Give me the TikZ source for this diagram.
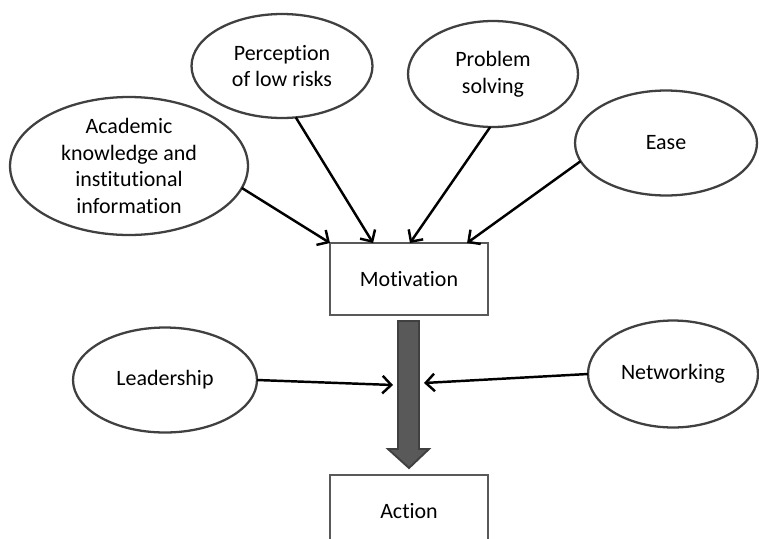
\documentclass[tikz,border=0pt]{standalone}
\usepackage{fontspec}
\setmainfont{Carlito}[Ligatures=NoCommon]
\usetikzlibrary{shapes.geometric,arrows.meta}

\tikzset{
  factor/.style={ellipse, draw=black!75, line width=1.3pt, inner sep=0pt, outer sep=0pt, align=center, font=\fontsize{12.5}{15.2}\selectfont},
  stage/.style={rectangle, draw=black!65, line width=1.4pt, inner sep=0pt, outer sep=0pt, minimum width=3.16cm, minimum height=1.44cm, font=\fontsize{12.5}{15.2}\selectfont},
  influence/.style={draw=black, line width=1.4pt, -{Straight Barb[length=5pt,width=10pt]}}
}

\begin{document}
\begin{tikzpicture}[x=0.02cm,y=-0.02cm]
\clip (0,0) rectangle (759,538);

% factors on top
\node (acad) at (129,166) [factor, minimum width=4.76cm, minimum height=2.76cm] {Academic\\knowledge and\\institutional\\information};
\node (percep) at (282,66) [factor, minimum width=3.62cm, minimum height=2.08cm] {Perception\\of low risks};
\node (prob) at (493,74) [factor, minimum width=3.4cm, minimum height=2.12cm] {Problem\\solving};
\node (ease) at (666,143) [factor, minimum width=3.64cm, minimum height=2.1cm] {Ease};

% boxes
\node (motiv) at (409,279) [stage] {Motivation};
\node (action) at (409,511) [stage] {Action};

% side factors
\node (lead) at (165,380) [factor, minimum width=3.68cm, minimum height=2.1cm] {Leadership};
\node (netw) at (673,374) [factor, minimum width=3.4cm, minimum height=2.14cm] {Networking};

\draw[influence] (acad.-11) -- (motiv.north west);
\draw[influence] (percep.-75) -- ([xshift=24.5pt]motiv.north west);
\draw[influence] (prob.-93) -- ([xshift=45.5pt]motiv.north west);
\draw[influence] (ease.192) -- ([xshift=78pt]motiv.north west);

% big arrow from motivation to action
\draw[draw=black!75, fill=black!65, line width=1.1pt] (398,321) -- (419,321) -- (419,449) -- (429,449) -- (409,468) -- (388,449) -- (398,449) -- cycle;

\draw[influence] (lead.east) -- (393,385);
\draw[influence] (netw.west) -- (424,383);
\end{tikzpicture}
\end{document}
